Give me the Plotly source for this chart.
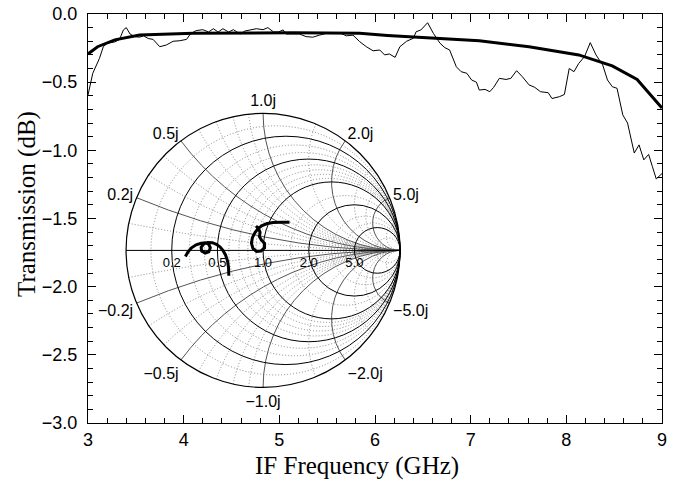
import numpy as np
import plotly.graph_objects as go

# ---------------- data ----------------
freq_meas = [3.00, 3.05, 3.12, 3.16, 3.20, 3.28, 3.33, 3.37, 3.40, 3.44, 3.49, 3.54, 3.58, 3.63,
             3.68, 3.75, 3.82, 3.89, 3.96, 4.03, 4.07, 4.13, 4.20, 4.26, 4.31, 4.36, 4.41, 4.47,
             4.52, 4.59, 4.64, 4.69, 4.76, 4.83, 4.88, 4.94, 4.99, 5.04, 5.07, 5.14, 5.21, 5.28,
             5.35, 5.42, 5.49, 5.56, 5.63, 5.70, 5.77, 5.84, 5.91, 5.98, 6.05, 6.10, 6.15, 6.21,
             6.26, 6.33, 6.40, 6.43, 6.48, 6.55, 6.61, 6.68, 6.73, 6.78, 6.85, 6.90, 6.96, 7.01,
             7.06, 7.09, 7.15, 7.20, 7.24, 7.30, 7.37, 7.42, 7.48, 7.54, 7.61, 7.67, 7.73, 7.81,
             7.85, 7.93, 7.98, 8.03, 8.08, 8.13, 8.19, 8.25, 8.31, 8.38, 8.43, 8.48, 8.53, 8.59,
             8.64, 8.71, 8.76, 8.81, 8.86, 8.90, 8.94, 9.00]
trans_meas = [-0.594, -0.435, -0.325, -0.240, -0.215, -0.205, -0.186, -0.117, -0.100, -0.147,
              -0.166, -0.170, -0.160, -0.180, -0.186, -0.240, -0.227, -0.200, -0.196, -0.186,
              -0.147, -0.122, -0.115, -0.132, -0.108, -0.132, -0.108, -0.132, -0.115, -0.147,
              -0.125, -0.120, -0.108, -0.115, -0.100, -0.132, -0.132, -0.117, -0.147, -0.147,
              -0.147, -0.166, -0.170, -0.155, -0.142, -0.137, -0.137, -0.160, -0.155, -0.203,
              -0.240, -0.270, -0.264, -0.300, -0.293, -0.318, -0.240, -0.200, -0.178, -0.130,
              -0.117, -0.064, -0.142, -0.215, -0.247, -0.264, -0.387, -0.423, -0.435, -0.484,
              -0.500, -0.558, -0.553, -0.570, -0.538, -0.472, -0.480, -0.472, -0.416, -0.460,
              -0.520, -0.538, -0.570, -0.577, -0.620, -0.606, -0.590, -0.400, -0.423, -0.362,
              -0.313, -0.210, -0.300, -0.374, -0.484, -0.533, -0.545, -0.740, -0.800, -1.020,
              -0.960, -1.070, -1.030, -1.120, -1.210, -1.170]

freq_sim = [3.00, 3.10, 3.28, 3.54, 4.10, 4.60, 5.14, 5.50, 5.84, 6.13, 6.57, 7.09, 7.61,
            8.13, 8.48, 8.74, 9.00]
trans_sim = [-0.293, -0.240, -0.190, -0.154, -0.142, -0.138, -0.137, -0.139, -0.142, -0.158,
             -0.174, -0.196, -0.240, -0.300, -0.380, -0.480, -0.690]

gamma1_re = [-0.567, -0.548, -0.522, -0.489, -0.452, -0.419, -0.396, -0.385, -0.396, -0.422,
             -0.448, -0.452, -0.433, -0.404, -0.370, -0.341, -0.315, -0.293, -0.274, -0.259,
             -0.252, -0.250]
gamma1_im = [-0.044, -0.011, 0.019, 0.041, 0.052, 0.056, 0.044, 0.019, -0.011, -0.019,
             -0.004, 0.022, 0.048, 0.057, 0.056, 0.044, 0.026, 0.000, -0.033, -0.078,
             -0.126, -0.185]
gamma2_re = [0.193, 0.133, 0.074, 0.030, -0.007, -0.037, -0.059, -0.078, -0.085, -0.074,
             -0.048, -0.015, 0.011, 0.011, -0.011, -0.026, -0.022, -0.033, -0.052]
gamma2_im = [0.205, 0.205, 0.203, 0.196, 0.181, 0.159, 0.130, 0.093, 0.052, 0.015,
             -0.007, -0.004, 0.019, 0.052, 0.074, 0.100, 0.133, 0.159, 0.178]

smith_major = [0.2, 0.5, 1.0, 2.0, 5.0]
smith_major_labels = ["0.2", "0.5", "1.0", "2.0", "5.0"]
smith_minor = [0.1, 0.3, 0.4, 0.6, 0.7, 0.8, 0.9, 1.5, 3.0, 4.0, 10.0]


def to_z(g_re, g_im):
    g = np.array(g_re) + 1j * np.array(g_im)
    z = (1 + g) / (1 - g)
    return z.real, z.imag


z1r, z1i = to_z(gamma1_re, gamma1_im)
z2r, z2i = to_z(gamma2_re, gamma2_im)
imag_major = [-v for v in smith_major[::-1]] + smith_major
imag_minor = [-v for v in smith_minor[::-1]] + smith_minor

# ---------------- figure ----------------
fig = go.Figure()

fig.add_trace(go.Scatter(x=freq_meas, y=trans_meas, mode="lines",
                         line=dict(color="black", width=1), showlegend=False))
fig.add_trace(go.Scatter(x=freq_sim, y=trans_sim, mode="lines",
                         line=dict(color="black", width=3), showlegend=False))

# minor-grid Smith chart (underneath)
fig.add_trace(go.Scattersmith(real=[1], imag=[0], mode="markers", marker=dict(opacity=0),
                              subplot="smith", showlegend=False, hoverinfo="skip"))
# main Smith chart with data
fig.add_trace(go.Scattersmith(real=z1r, imag=z1i, mode="lines",
                              line=dict(color="black", width=3), subplot="smith2",
                              showlegend=False))
fig.add_trace(go.Scattersmith(real=z2r, imag=z2i, mode="lines",
                              line=dict(color="black", width=3), subplot="smith2",
                              showlegend=False))
# real-axis labels of the Smith chart
fig.add_trace(go.Scattersmith(real=smith_major, imag=[0] * len(smith_major),
                              mode="markers+text", marker=dict(size=9, opacity=0),
                              text=smith_major_labels, textposition="bottom center",
                              textfont=dict(family="Liberation Sans, Arial, sans-serif",
                                            size=13, color="#000000"),
                              subplot="smith2", showlegend=False, hoverinfo="skip"))

tickfont = dict(family="Liberation Sans, Arial, sans-serif", size=18, color="black")
titlefont = dict(family="Liberation Serif, Times New Roman, serif", size=25, color="black")

smith_dom = dict(x=[0.0654, 0.5446], y=[0.087, 0.757])
hidden_font = dict(size=12, color="rgba(0,0,0,0)")

fig.update_layout(
    width=685, height=487,
    margin=dict(l=88, r=23, t=14, b=64),
    paper_bgcolor="white", plot_bgcolor="white",
    xaxis=dict(range=[3, 9], dtick=1, tick0=3, ticks="inside", ticklen=8, tickwidth=1,
               tickcolor="black", showline=True, linecolor="black", linewidth=1.2,
               mirror="ticks", showgrid=False, zeroline=False, tickfont=tickfont,
               ticklabelstandoff=0, automargin=False, ticklabeloverflow="allow",
               minor=dict(dtick=0.2, ticks="inside", ticklen=4.5, tickcolor="black",
                          showgrid=False)),
    yaxis=dict(range=[-3, 0], dtick=0.5, tick0=0, tickformat=".1f", ticks="inside",
               ticklen=8, tickwidth=1, tickcolor="black", showline=True, linecolor="black",
               linewidth=1.2, mirror="ticks", showgrid=False, zeroline=False,
               tickfont=tickfont, ticklabelstandoff=6, automargin=False,
               ticklabeloverflow="allow",
               minor=dict(dtick=0.1, ticks="inside", ticklen=4.5, tickcolor="black",
                          showgrid=False)),
    smith=dict(
        domain=smith_dom,
        bgcolor="white",
        realaxis=dict(tickvals=smith_minor, showticklabels=True, tickfont=hidden_font,
                      showline=False, gridcolor="#888888", griddash="1px,2px",
                      gridwidth=0.8),
        imaginaryaxis=dict(tickvals=imag_minor, showticklabels=False, showline=False,
                           gridcolor="#888888", griddash="1px,2px", gridwidth=0.8),
    ),
    smith2=dict(
        domain=smith_dom,
        bgcolor="rgba(0,0,0,0)",
        realaxis=dict(tickvals=smith_major, showticklabels=True, tickfont=hidden_font,
                      gridcolor="black", gridwidth=1, linecolor="black", linewidth=1),
        imaginaryaxis=dict(tickvals=imag_major, tickformat=".1f", ticksuffix="j",
                           gridcolor="#555555", gridwidth=0.8, linecolor="black",
                           linewidth=1.2,
                           tickfont=dict(family="Liberation Sans, Arial, sans-serif",
                                         size=16, color="black")),
    ),
)
# blank out the automatic "infinity" marker that the reference does not show
fig.add_shape(type="rect", xref="paper", yref="paper", layer="above",
              x0=(404 - 88) / 574, x1=(430 - 88) / 574,
              y0=(423 - 264) / 409, y1=(423 - 236) / 409,
              fillcolor="white", line=dict(width=0))
fig.add_annotation(text="IF Frequency (GHz)", xref="paper", yref="paper",
                   x=(357 - 88) / 574, y=-(466 - 423) / 409, xanchor="center",
                   yanchor="middle", showarrow=False, font=titlefont)
fig.add_annotation(text="Transmission (dB)", xref="paper", yref="paper",
                   x=-(88 - 27) / 574, y=(423 - 204) / 409, xanchor="center",
                   yanchor="middle", textangle=-90, showarrow=False, font=titlefont)

fig.write_html("out.html", config={"displayModeBar": False},
               post_script="document.body.style.margin='0px';")
